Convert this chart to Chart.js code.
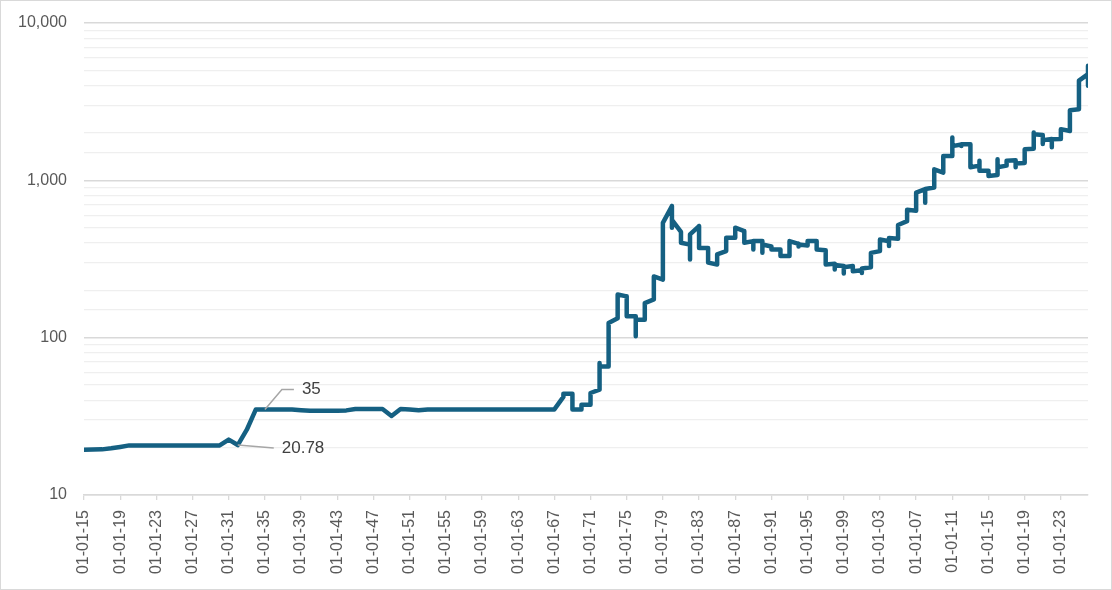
<!DOCTYPE html>
<html>
<head>
<meta charset="utf-8">
<title>Gold price, log scale</title>
<script src="https://cdn.jsdelivr.net/npm/chart.js@4.4.1/dist/chart.umd.min.js"></script>
<style>
  html, body { margin: 0; padding: 0; background: #fff; }
  #wrap { width: 1112px; height: 590px; }
</style>
</head>
<body>
<div id="wrap"><canvas id="goldChart" width="1112" height="590"></canvas></div>
<script>
// prices, one inner list per year (several values = moves inside that year)
var firstYearEarly = 1915;
var pricesEarly = [
  [19.4], [19.45], [19.5], [19.8], [20.2],                               // 1915-19
  [20.67], [20.67], [20.67], [20.67], [20.67],                           // 1920-24
  [20.67], [20.67], [20.67], [20.67], [20.67],                           // 1925-29
  [20.67], [22.5], [20.78], [26], [35],                                  // 1930-34
  [35], [35], [35], [35], [34.6],                                        // 1935-39
  [34.3], [34.3], [34.3], [34.3], [34.5],                                // 1940-44
  [35.2], [35.2], [35.2], [35.2], [31.8],                                // 1945-49
  [35.2], [35], [34.6], [35], [35],                                      // 1950-54
  [35], [35], [35], [35], [35],                                          // 1955-59
  [35], [35], [35], [35], [35],                                          // 1960-64
  [35], [35], [35]                                                       // 1965-67
];

var firstYearFloat = 1968;
var pricesFloat = [
  [42, 44], [44, 35], [35, 37.4], [37.4, 44.5], [46.7, 69, 65.6],        // 1968-72
  [65.6, 124], [133, 188], [183, 137], [137, 102, 130], [130, 166],      // 1973-77
  [175, 245], [234, 537], [686, 500, 560], [470, 401], [390, 314, 453],  // 1978-82
  [512, 372], [372, 300], [292, 338], [355, 431], [431, 500],            // 1983-87
  [476, 401], [411, 364, 411], [411, 346, 391], [380, 364], [364, 330],  // 1988-92
  [330, 411], [395, 380, 391], [385, 411], [411, 364], [360, 292],       // 1993-97
  [295, 271, 290], [285, 256, 280], [285, 264], [268, 258, 275], [280, 346] // 1998-2002
];

var firstYearRecent = 2003;
var pricesRecent = [
  [355, 421], [410, 382, 430], [425, 520], [550, 650], [640, 835],       // 2003-07
  [880, 721, 880], [900, 1175], [1120, 1429], [1429, 1871, 1650],        // 2008-11
  [1690, 1650, 1695], [1695, 1212], [1240, 1330, 1150], [1150, 1067],    // 2012-15
  [1080, 1362, 1212], [1240, 1330], [1340, 1212, 1280], [1290, 1574],    // 2016-19
  [1590, 2011, 1960], [1940, 1700, 1800], [1830, 1620, 1825],            // 2020-22
  [1830, 2115], [2060, 2790], [2830, 4300], [4733, 5346, 3990]           // 2023-26
];

var tickYears = [1915, 1919, 1923, 1927, 1931, 1935, 1939, 1943, 1947, 1951, 1955, 1959,
  1963, 1967, 1971, 1975, 1979, 1983, 1987, 1991, 1995, 1999, 2003, 2007, 2011, 2015,
  2019, 2023];

var callouts = [
  { year: 1935, price: 35, text: '35' },
  { year: 1932, price: 20.78, text: '20.78' }
];

var FONT = '"Liberation Sans", Arial, sans-serif';
var TEXT = '#595959';

function addYears(out, startYear, rows) {
  rows.forEach(function (vals, i) {
    vals.forEach(function (v) { out.push({ x: startYear + i, y: v }); });
  });
}
var points = [];
addYears(points, firstYearEarly, pricesEarly);
addYears(points, firstYearFloat, pricesFloat);
addYears(points, firstYearRecent, pricesRecent);

function isDecade(v) {
  var l = Math.log10(v);
  return Math.abs(l - Math.round(l)) < 1e-9;
}

// white page + thin grey frame
var frame = {
  id: 'frame',
  beforeDraw: function (chart) {
    var c = chart.ctx;
    c.save();
    c.fillStyle = '#fff';
    c.fillRect(0, 0, chart.width, chart.height);
    c.strokeStyle = '#d9d9d9';
    c.lineWidth = 1;
    c.strokeRect(0.5, 0.5, chart.width - 1, chart.height - 1);
    c.restore();
  }
};

// data labels with leader lines, offsets in px from the point
var calloutStyle = [
  { leader: [[17, -20], [29, -20]], tx: 37, ty: -20 },
  { leader: [[36, 3]], tx: 44, ty: 3 }
];
var labels = {
  id: 'labels',
  afterDatasetsDraw: function (chart) {
    var c = chart.ctx, xs = chart.scales.x, ys = chart.scales.y;
    c.save();
    callouts.forEach(function (co, i) {
      var st = calloutStyle[i];
      var px = xs.getPixelForValue(co.year), py = ys.getPixelForValue(co.price);
      c.strokeStyle = '#a6a6a6';
      c.lineWidth = 1.5;
      c.beginPath();
      c.moveTo(px, py);
      st.leader.forEach(function (p) { c.lineTo(px + p[0], py + p[1]); });
      c.stroke();
      c.fillStyle = '#404040';
      c.font = '17px ' + FONT;
      c.textAlign = 'left';
      c.textBaseline = 'middle';
      c.fillText(co.text, px + st.tx, py + st.ty);
    });
    c.restore();
  }
};

var ctx = document.getElementById('goldChart').getContext('2d');
var chart = new Chart(ctx, {
  type: 'line',
  data: {
    datasets: [{
      label: 'Gold',
      data: points,
      borderColor: '#156082',
      borderWidth: 4.5,
      borderCapStyle: 'round',
      borderJoinStyle: 'round',
      pointRadius: 0,
      tension: 0,
      fill: false
    }]
  },
  options: {
    responsive: false,
    devicePixelRatio: 1,
    animation: false,
    layout: { padding: { left: 0, right: 24, top: 23, bottom: 0 } },
    plugins: {
      legend: { display: false },
      tooltip: { enabled: false }
    },
    scales: {
      x: {
        type: 'linear',
        min: 1915,
        max: 2026,
        afterBuildTicks: function (s) {
          s.ticks = tickYears.map(function (v) { return { value: v }; });
        },
        afterFit: function (s) { s.height = 95; },
        ticks: {
          autoSkip: false,
          minRotation: 90,
          maxRotation: 90,
          padding: 10,
          color: TEXT,
          font: { family: FONT, size: 16 },
          callback: function (v) { return '01-01-' + String(v).slice(2); }
        },
        grid: { drawOnChartArea: false, drawTicks: true, tickLength: 5, color: '#d9d9d9', lineWidth: 1.3 },
        border: { display: true, color: '#d9d9d9', width: 1.5 }
      },
      y: {
        type: 'logarithmic',
        min: 10,
        max: 10000,
        afterFit: function (s) { s.width = 84; s.paddingTop = 0; s.paddingBottom = 0; },
        ticks: {
          autoSkip: false,
          padding: 17,
          color: TEXT,
          font: { family: FONT, size: 16 },
          callback: function (v) { return isDecade(v) ? Number(v).toLocaleString('en-US') : ''; }
        },
        grid: {
          drawTicks: false,
          color: function (c) { return isDecade(c.tick.value) ? '#d9d9d9' : '#efefef'; },
          lineWidth: function (c) { return isDecade(c.tick.value) ? 1.5 : 1.2; }
        },
        border: { display: false }
      }
    }
  },
  plugins: [frame, labels]
});
</script>
</body>
</html>
